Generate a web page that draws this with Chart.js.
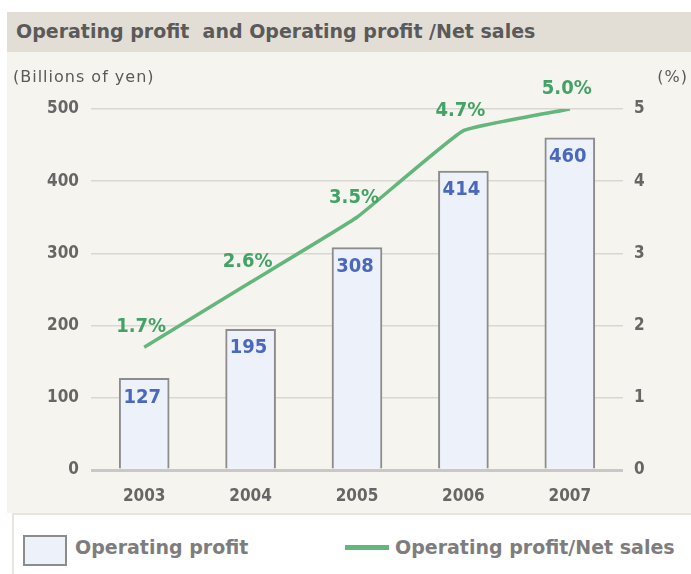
<!DOCTYPE html>
<html>
<head>
<meta charset="utf-8">
<script src="https://cdn.jsdelivr.net/npm/chart.js@4.4.1/dist/chart.umd.min.js"></script>
<style>
  body { margin: 0; background: #ffffff; width: 691px; height: 574px; position: relative; overflow: hidden; }
  .header { position: absolute; left: 7px; top: 12px; width: 684px; height: 40px; background: #e3ded5; }
  .header span { position: absolute; left: 9px; top: 8px; font: bold 19px "DejaVu Sans", sans-serif; color: #5a5a5a; white-space: pre; }
  .chart-box { position: absolute; left: 7px; top: 52px; width: 684px; height: 461px; background: #f6f4ee; }
  .legend-box { position: absolute; left: 12px; top: 513px; width: 690px; height: 80px; background: #ffffff; border: 2px solid #e9e5dd; }
  .swatch { position: absolute; left: 23px; top: 535px; width: 40px; height: 27px; background: #edf1f9; border: 2px solid #8c8c8c; }
  .line-swatch { position: absolute; left: 345px; top: 545px; width: 44px; height: 5px; background: #63b67c; }
  .legend-text { position: absolute; top: 536px; font: bold 19px "DejaVu Sans", sans-serif; color: #7d7d7d; white-space: pre; }
</style>
</head>
<body>
<div class="header"><span>Operating profit  and Operating profit /Net sales</span></div>
<div class="chart-box"><canvas id="profitChart" width="684" height="461"></canvas></div>
<div class="legend-box"></div>
<div class="swatch"></div>
<div class="legend-text" style="left:75px">Operating profit</div>
<div class="line-swatch"></div>
<div class="legend-text" style="left:395px">Operating profit/Net sales</div>
<script>
// chart data
const years = ['2003', '2004', '2005', '2006', '2007'];
const operatingProfit = [127, 195, 308, 414, 460];
const profitRatio = [1.7, 2.6, 3.5, 4.7, 5.0];
const leftUnit = '(Billions of yen)';
const rightUnit = '(%)';

const condensed = '"DejaVu Sans Condensed", "DejaVu Sans", sans-serif';
const tickFont = { family: condensed, size: 17, weight: 'bold' };

// draws value labels and axis unit captions
const labelPlugin = {
    id: 'valueLabels',
    afterDatasetsDraw(chart) {
        const ctx = chart.ctx;
        ctx.save();
        ctx.textAlign = 'center';
        ctx.textBaseline = 'middle';
        ctx.font = 'bold 20px ' + condensed;

        ctx.fillStyle = '#4a68bd';
        chart.getDatasetMeta(0).data.forEach((bar, i) => {
            ctx.fillText(String(operatingProfit[i]), bar.x - 2, bar.y + 19);
        });

        ctx.fillStyle = '#43a265';
        chart.getDatasetMeta(1).data.forEach((pt, i) => {
            ctx.fillText(profitRatio[i].toFixed(1) + '%', pt.x - 3, pt.y - 20);
        });

        ctx.font = '16px "DejaVu Sans", sans-serif';
        ctx.letterSpacing = '1px';
        ctx.fillStyle = '#5a5a5a';
        ctx.textAlign = 'left';
        ctx.fillText(leftUnit, 6, 26);
        ctx.textAlign = 'right';
        ctx.fillText(rightUnit, 681, 26);
        ctx.restore();
    }
};

const ctx = document.getElementById('profitChart').getContext('2d');
new Chart(ctx, {
    data: {
        labels: years,
        datasets: [
            {
                type: 'bar',
                label: 'Operating profit',
                data: operatingProfit,
                yAxisID: 'y',
                backgroundColor: '#edf1f9',
                borderColor: '#8c8c8c',
                borderWidth: 2,
                barThickness: 50,
                order: 1
            },
            {
                type: 'line',
                label: 'Operating profit/Net sales',
                data: profitRatio,
                yAxisID: 'y1',
                borderColor: '#63b67c',
                borderWidth: 3.5,
                pointRadius: 0,
                tension: 0.1,
                order: 0
            }
        ]
    },
    options: {
        responsive: false,
        animation: false,
        layout: { padding: { top: 57, left: 0, right: 0, bottom: 0 } },
        plugins: {
            legend: { display: false },
            tooltip: { enabled: false }
        },
        scales: {
            x: {
                offset: true,
                grid: { display: false },
                border: { display: false },
                ticks: { font: tickFont, color: '#666666', padding: 8 },
                afterFit(scale) { scale.height = 43; }
            },
            y: {
                position: 'left',
                min: 0,
                max: 500,
                ticks: { stepSize: 100, font: tickFont, color: '#666666', padding: 12 },
                grid: {
                    drawTicks: false,
                    color: c => c.tick.value === 0 ? '#c8c8c8' : '#d9d7d1',
                    lineWidth: c => c.tick.value === 0 ? 3 : 1.5
                },
                border: { display: false },
                afterFit(scale) { scale.width = 84; }
            },
            y1: {
                position: 'right',
                min: 0,
                max: 5,
                ticks: { stepSize: 1, font: tickFont, color: '#666666', padding: 11 },
                grid: { display: false, drawTicks: false },
                border: { display: false },
                afterFit(scale) { scale.width = 68; }
            }
        }
    },
    plugins: [labelPlugin]
});
</script>
</body>
</html>
